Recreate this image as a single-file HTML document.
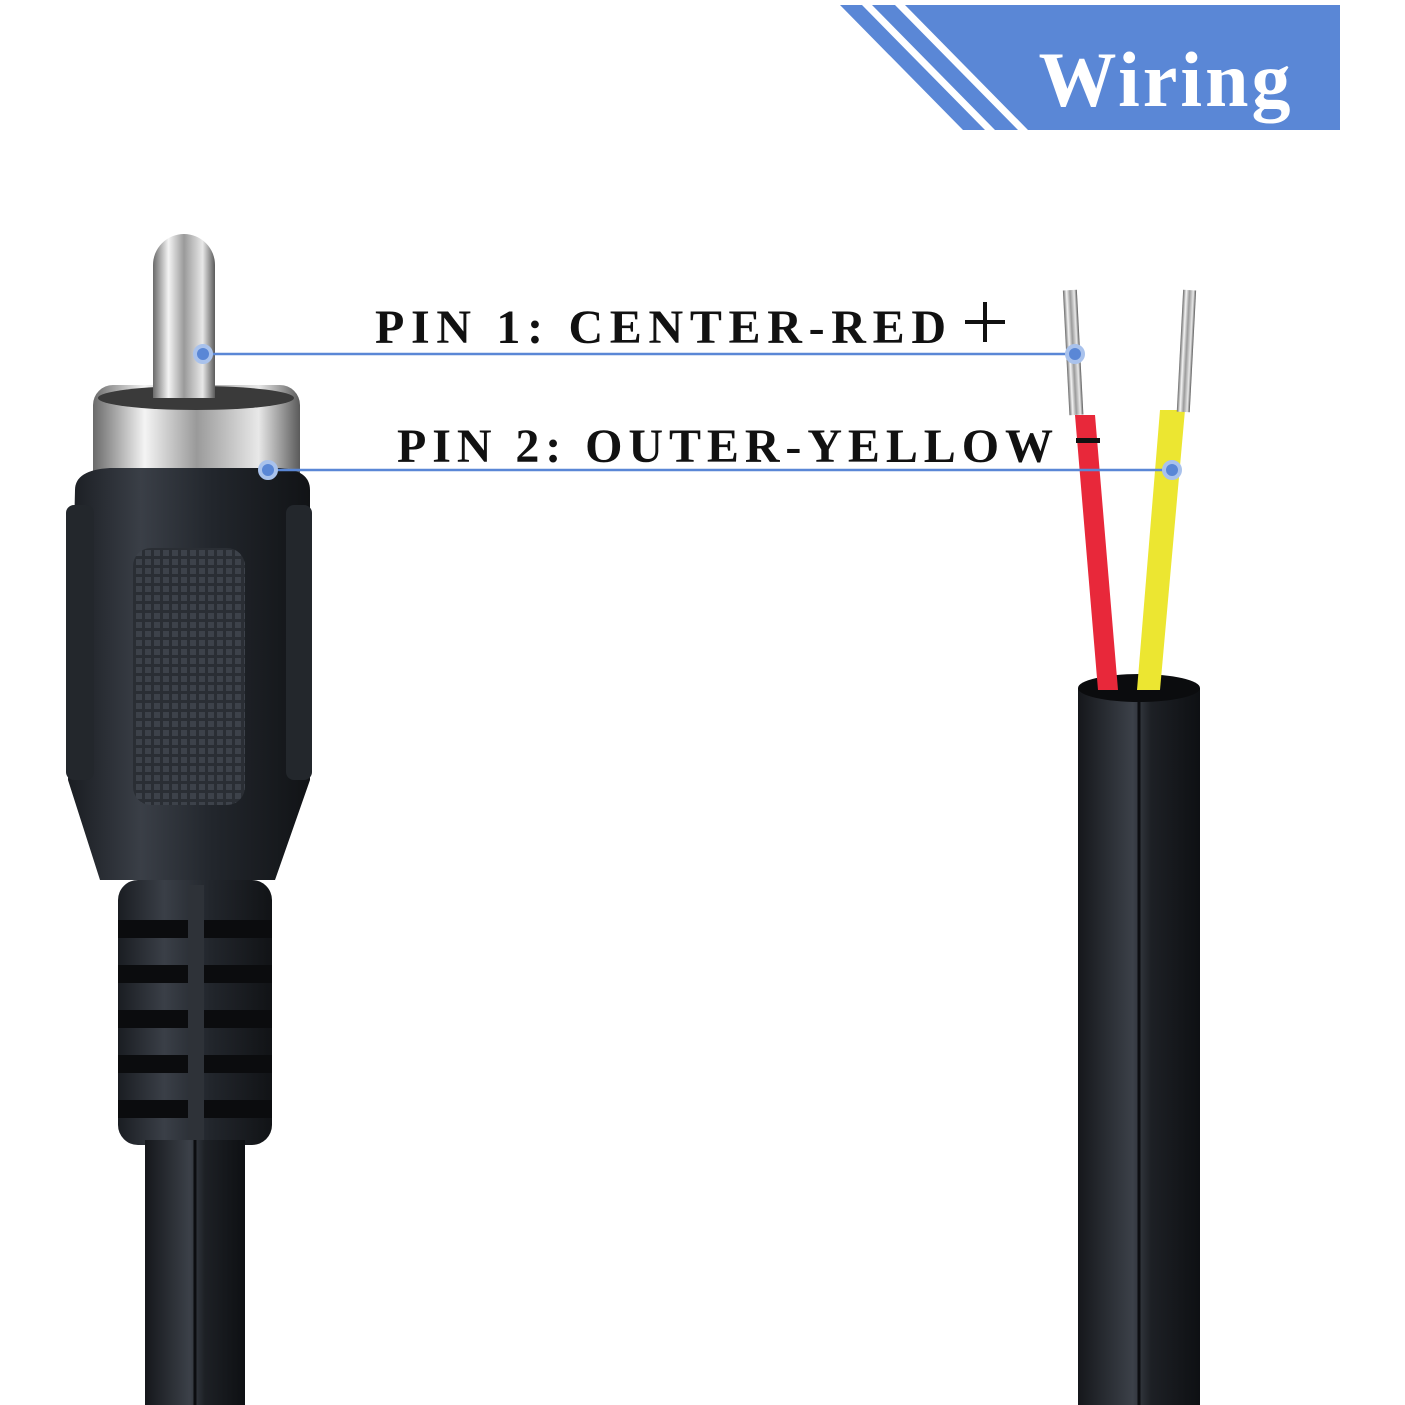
<!DOCTYPE html>
<html><head><meta charset="utf-8"><style>
html,body{margin:0;padding:0;background:#fff;}
svg{display:block}
</style></head><body>
<svg width="1405" height="1405" viewBox="0 0 1405 1405" xmlns="http://www.w3.org/2000/svg">
<defs>
<linearGradient id="metal" x1="0" x2="1" y1="0" y2="0">
<stop offset="0" stop-color="#6a6a6a"/><stop offset="0.25" stop-color="#f4f4f4"/><stop offset="0.5" stop-color="#9a9a9a"/><stop offset="0.8" stop-color="#e8e8e8"/><stop offset="1" stop-color="#5a5a5a"/>
</linearGradient>
<linearGradient id="black" x1="0" x2="1" y1="0" y2="0">
<stop offset="0" stop-color="#1a1d22"/><stop offset="0.3" stop-color="#3a3f47"/><stop offset="0.6" stop-color="#22262c"/><stop offset="1" stop-color="#111316"/>
</linearGradient>
<linearGradient id="cab" x1="0" x2="1" y1="0" y2="0">
<stop offset="0" stop-color="#15171b"/><stop offset="0.45" stop-color="#3c4149"/><stop offset="0.6" stop-color="#1d2025"/><stop offset="1" stop-color="#0e1013"/>
</linearGradient>
<pattern id="knurl" width="9" height="9" patternUnits="userSpaceOnUse">
<rect width="9" height="9" fill="#2a2e34"/><rect x="1" y="1" width="6" height="6" fill="#3d424a"/>
</pattern>
</defs>
<polygon points="840,5 862,5 985,130 963,130" fill="#5a87d6"/>
<polygon points="872,5 895,5 1018,130 995,130" fill="#5a87d6"/>
<polygon points="905,5 1340,5 1340,130 1028,130" fill="#5a87d6"/>
<text x="1166" y="106" text-anchor="middle" font-family="Liberation Serif, serif" font-weight="bold" font-size="78" fill="#fff" letter-spacing="3">Wiring</text>

<path d="M153,265 A31,31 0 0 1 215,265 L215,395 L153,395 Z" fill="url(#metal)"/>
<rect x="93" y="385" width="207" height="110" rx="20" fill="url(#metal)"/>
<ellipse cx="196" cy="398" rx="98" ry="12" fill="#3a3a3a"/>
<rect x="153" y="380" width="62" height="18" fill="url(#metal)"/>
<path d="M75,490 Q75,470 110,468 L280,468 Q310,470 310,490 L310,780 L275,880 L100,880 L68,780 Z" fill="url(#black)"/>
<rect x="66" y="505" width="28" height="275" rx="8" fill="#23272c"/>
<rect x="286" y="505" width="26" height="275" rx="8" fill="#23272c"/>
<rect x="133" y="548" width="112" height="257" rx="18" fill="url(#knurl)"/>
<rect x="118" y="880" width="154" height="265" rx="20" fill="url(#black)"/>
<g fill="#0b0c0e">
<rect x="118" y="920" width="154" height="18"/><rect x="118" y="965" width="154" height="18"/>
<rect x="118" y="1010" width="154" height="18"/><rect x="118" y="1055" width="154" height="18"/>
<rect x="118" y="1100" width="154" height="18"/>
</g>
<rect x="188" y="885" width="16" height="255" fill="#2e3238"/>
<rect x="145" y="1140" width="100" height="265" fill="url(#cab)"/>
<line x1="195" y1="1140" x2="195" y2="1405" stroke="#0c0d10" stroke-width="3"/>

<rect x="1078" y="688" width="122" height="717" fill="url(#cab)"/>
<line x1="1139" y1="700" x2="1139" y2="1405" stroke="#0c0d10" stroke-width="3"/>
<ellipse cx="1139" cy="688" rx="61" ry="14" fill="#0b0c0e"/>
<path d="M1075,415 L1095,415 L1118,690 L1098,690 Z" fill="#e8283a"/>
<path d="M1160,410 L1185,410 L1160,690 L1137,690 Z" fill="#ece631"/>
<rect x="1066" y="290" width="14" height="125" fill="url(#metal)" transform="rotate(-3 1073 350)"/>
<rect x="1180" y="290" width="13" height="122" fill="url(#metal)" transform="rotate(3 1186 350)"/>

<line x1="203" y1="354" x2="1075" y2="354" stroke="#5a87d6" stroke-width="2.5"/>
<line x1="268" y1="470" x2="1172" y2="470" stroke="#5a87d6" stroke-width="2.5"/>
<g fill="#5a87d6" stroke="#a9c2ec" stroke-width="4">
<circle cx="203" cy="354" r="8"/><circle cx="1075" cy="354" r="8"/>
<circle cx="268" cy="470" r="8"/><circle cx="1172" cy="470" r="8"/>
</g>

<text x="375" y="343" font-family="Liberation Serif, serif" font-weight="bold" font-size="48" fill="#111" letter-spacing="4" textLength="575">PIN 1: CENTER-RED</text>
<rect x="965" y="320" width="40" height="4" fill="#111"/>
<rect x="983" y="302" width="4" height="40" fill="#111"/>
<text x="397" y="462" font-family="Liberation Serif, serif" font-weight="bold" font-size="48" fill="#111" letter-spacing="4" textLength="660">PIN 2: OUTER-YELLOW</text>
<rect x="1076" y="438" width="24" height="5" fill="#111"/>
</svg>
</body></html>
